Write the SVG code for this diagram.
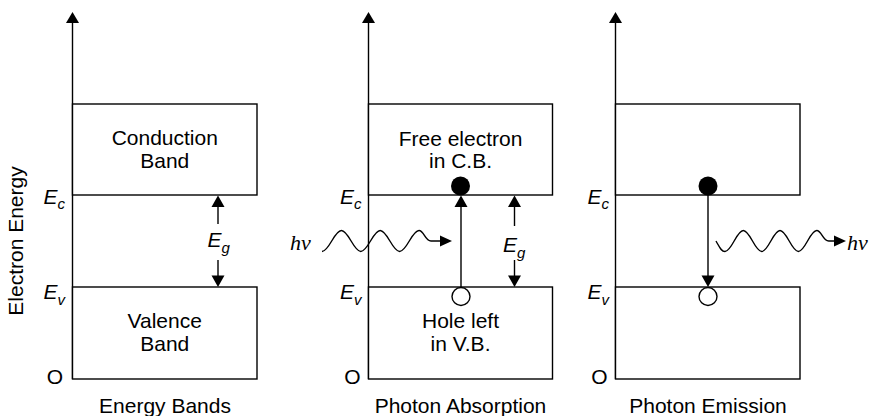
<svg xmlns="http://www.w3.org/2000/svg" width="873" height="416" viewBox="0 0 873 416">
<style>
.ln{stroke:#000;stroke-width:1.4;fill:none}
.bx{stroke:#000;stroke-width:1.4;fill:#fff}
.t{font-family:"Liberation Sans",Arial,sans-serif;font-size:21px;fill:#000;text-anchor:middle}
.it{font-family:"Liberation Sans",Arial,sans-serif;font-style:italic;font-size:21px;fill:#000}
.sub{font-size:15px}
.hv{font-family:"Liberation Serif","Times New Roman",serif;font-style:italic;font-size:22px;fill:#000}
.hd{fill:#000;stroke:none}
</style>
<rect width="873" height="416" fill="#fff"/>
<text class="t" transform="translate(23,241) rotate(-90)">Electron Energy</text>

<g id="panel1">
  <line class="ln" x1="72.5" y1="22" x2="72.5" y2="379"/>
  <polygon class="hd" points="72.5,12 66,23 79,23"/>
  <g id="cb1"><rect class="bx" x="72.5" y="104" width="184.5" height="91"/>
    <text class="t" x="164.75" y="145">Conduction</text>
    <text class="t" x="164.75" y="168">Band</text></g>
  <g id="vb1"><rect class="bx" x="72.5" y="287" width="184.5" height="92"/>
    <text class="t" x="164.75" y="328">Valence</text>
    <text class="t" x="164.75" y="351">Band</text></g>
  <text class="it" x="43.5" y="203.5">E<tspan class="sub" dy="5.5">c</tspan></text>
  <text class="it" x="43.5" y="299">E<tspan class="sub" dy="6">v</tspan></text>
  <text class="t" x="55" y="384">O</text>
  <text class="t" x="165" y="412.5">Energy Bands</text>
  <text class="it" x="207.5" y="246.5">E<tspan class="sub" dy="6">g</tspan></text>
</g>

<g id="panel2">
  <line class="ln" x1="368.5" y1="22" x2="368.5" y2="379"/>
  <polygon class="hd" points="368.5,12 362,23 375,23"/>
  <g id="cb2"><rect class="bx" x="368.5" y="104" width="184" height="91"/>
    <text class="t" x="460.5" y="146">Free electron</text>
    <text class="t" x="460.5" y="168">in C.B.</text></g>
  <g id="vb2"><rect class="bx" x="368.5" y="287" width="184" height="92"/>
    <text class="t" x="460.5" y="328">Hole left</text>
    <text class="t" x="460.5" y="350.5">in V.B.</text></g>
  <text class="it" x="340" y="203.5">E<tspan class="sub" dy="5.5">c</tspan></text>
  <text class="it" x="340" y="299">E<tspan class="sub" dy="6">v</tspan></text>
  <text class="t" x="352.5" y="384">O</text>
  <text class="t" x="460.5" y="412.5">Photon Absorption</text>
  <text class="it" x="503" y="252">E<tspan class="sub" dy="6">g</tspan></text>
  <text class="hv" x="290" y="249.5">hν</text>
  <circle id="e2" cx="460.5" cy="186" r="9.5" fill="#000"/>
  <circle id="h2" cx="461" cy="296.5" r="9" fill="#fff" stroke="#000" stroke-width="1.4"/>
</g>

<g id="panel3">
  <line class="ln" x1="615.5" y1="22" x2="615.5" y2="379"/>
  <polygon class="hd" points="615.5,12 609,23 622,23"/>
  <g id="cb3"><rect class="bx" x="615.5" y="104" width="184.5" height="91"/></g>
  <g id="vb3"><rect class="bx" x="615.5" y="287" width="184.5" height="92"/></g>
  <text class="it" x="587.5" y="203.5">E<tspan class="sub" dy="5.5">c</tspan></text>
  <text class="it" x="587.5" y="299">E<tspan class="sub" dy="6">v</tspan></text>
  <text class="t" x="599.5" y="384">O</text>
  <text class="t" x="708" y="412.5">Photon Emission</text>
  <text class="hv" x="847" y="249.5">hν</text>
  <circle id="e3" cx="708" cy="186" r="9.5" fill="#000"/>
  <circle id="h3" cx="708" cy="296.5" r="9" fill="#fff" stroke="#000" stroke-width="1.4"/>
</g>

<g id="connectors">
  <!-- panel 1 Eg -->
  <line class="ln" x1="218" y1="206" x2="218" y2="224"/>
  <polygon class="hd" points="218,195.5 211.5,207 224.5,207"/>
  <line class="ln" x1="218" y1="260" x2="218" y2="277"/>
  <polygon class="hd" points="218,287 211.5,275.5 224.5,275.5"/>
  <!-- panel 2 Eg -->
  <line class="ln" x1="514.5" y1="206" x2="514.5" y2="226"/>
  <polygon class="hd" points="514.5,195.5 508,207 521,207"/>
  <line class="ln" x1="514.5" y1="260" x2="514.5" y2="277"/>
  <polygon class="hd" points="514.5,287 508,275.5 521,275.5"/>
  <!-- absorption transition -->
  <line class="ln" x1="461" y1="206" x2="461" y2="287.5"/>
  <polygon class="hd" points="461,195.5 454.5,207 467.5,207"/>
  <!-- absorbed photon -->
  <path class="ln" d="M322,251.5 C329.1,251.5 334.3,230.5 341.4,230.5 S353.7,251.5 360.8,251.5 S373.1,230.5 380.2,230.5 S392.5,251.5 399.6,251.5 S411.9,230.5 419,230.5 C424,230.5 425,241 431,241 L441,241"/>
  <polygon class="hd" points="440,235.5 452,241 440,246.5"/>
  <!-- emission transition -->
  <line class="ln" x1="708" y1="195" x2="708" y2="277"/>
  <polygon class="hd" points="708,287 701.5,275.5 714.5,275.5"/>
  <!-- emitted photon -->
  <path class="ln" d="M716,241 C719.5,247 721,251.5 725,251.5 C731.7,251.5 736.6,230.5 743.3,230.5 S755,251.5 761.7,251.5 S773.3,230.5 780,230.5 S791.7,251.5 798.4,251.5 S810,230.5 816.7,230.5 C821.7,230.5 822.7,241 828.7,241 L835,241"/>
  <polygon class="hd" points="834,235.5 846,241 834,246.5"/>
</g>
</svg>
